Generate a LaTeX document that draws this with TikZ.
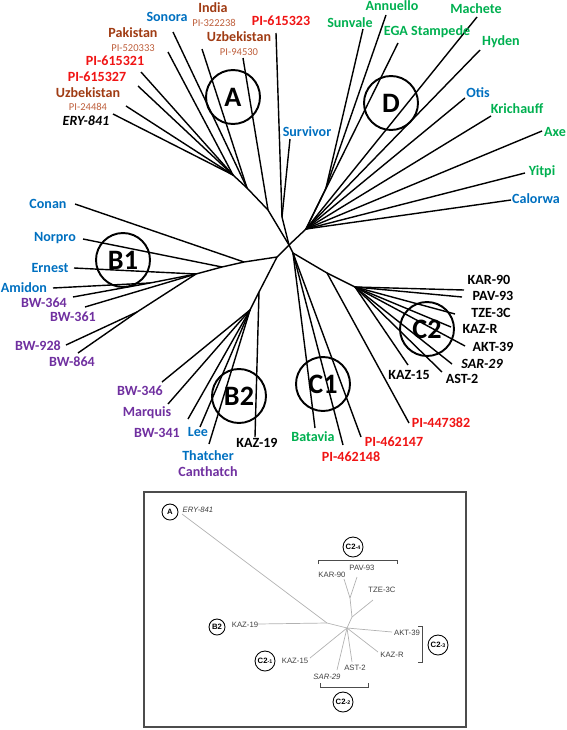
\documentclass[tikz,border=0pt]{standalone}
\usepackage{fontspec}
\setmainfont{Carlito}
\newfontfamily\insetfont{Liberation Sans}
\usepackage{tikz}
\usetikzlibrary{positioning}

\definecolor{cvblue}{RGB}{0,112,192}
\definecolor{cvgreen}{RGB}{0,176,80}
\definecolor{cvred}{RGB}{240,20,20}
\definecolor{cvbrown}{RGB}{160,60,20}
\definecolor{cvtan}{RGB}{190,95,60}
\definecolor{cvpurple}{RGB}{112,48,160}

\tikzset{
  lbl/.style={font=\bfseries\fontsize{8}{9}\selectfont, inner sep=0pt},
  acc/.style={font=\fontsize{6}{7}\selectfont, inner sep=0pt, text=cvtan},
  grp/.style={circle, draw, line width=1.1pt, minimum size=1.08cm, inner sep=0pt,
    font=\bfseries\fontsize{16}{16}\selectfont},
  br/.style={line width=0.8pt},
  ilbl/.style={font=\insetfont\fontsize{4.4}{5}\selectfont, inner sep=0pt, text=black!75},
  igrp/.style={circle, draw, line width=0.5pt, inner sep=0pt,
    font=\insetfont\bfseries\fontsize{4.4}{5}\selectfont},
  ibr/.style={line width=0.4pt, black!30}
}

\begin{document}
\begin{tikzpicture}[x=0.02cm,y=-0.02cm]
\useasboundingbox (0,0) rectangle (567,730);

% hubs of the big tree
\coordinate (c0) at (289,245);
\coordinate (p1) at (282,217);
\coordinate (a2) at (268,210);
\coordinate (a3) at (247,188);
\coordinate (a4) at (233,175);
\coordinate (d0) at (306,229);
\coordinate (d1) at (326,188);
\coordinate (b0) at (277,257);
\coordinate (b1) at (244,262);
\coordinate (b2) at (222,267);
\coordinate (b3) at (196,274);
\coordinate (b4) at (150,283);
\coordinate (b5) at (137,312);
\coordinate (h2a) at (259,292);
\coordinate (h2b) at (250,310);
\coordinate (cc) at (293,253);
\coordinate (c2a) at (327,273);
\coordinate (c2b) at (355,287);

% cluster A
\coordinate (tPIa) at (276,33);
\coordinate (tSurvivor) at (290,139);
\coordinate (tUzbB) at (243,58);
\coordinate (tIndia) at (202,49);
\coordinate (tSonora) at (173,32);
\coordinate (tPakistan) at (168,52);
\coordinate (tPIb) at (141,72);
\coordinate (tPIc) at (138,86);
\coordinate (tUzbA) at (126,106);
\coordinate (tERY) at (113,114);

\draw[br] (c0) -- (a2) -- (a3) -- (a4);
\draw[br] (c0) -- (p1) -- (tPIa);
\draw[br] (p1) -- (tSurvivor);
\draw[br] (a2) -- (tUzbB);
\draw[br] (a3) -- (tIndia);
\draw[br] (a3) -- (tSonora);
\foreach \t in {tPakistan,tPIb,tPIc,tUzbA,tERY}
  \draw[br] (a4) -- (\t);

\node[lbl, text=cvblue] (lSonora) at (167,17) {Sonora};
\node[lbl, text=cvbrown] (lIndia) at (213,8) {India};
\node[acc] (lIndiaPI) at (214,23) {PI-322238};
\node[lbl, text=cvred] (lPIa) at (281,21) {PI-615323};
\node[lbl, text=cvbrown] (lUzbB) at (239,37) {Uzbekistan};
\node[acc] (lUzbBPI) at (239,52) {PI-94530};
\node[lbl, text=cvbrown] (lPakistan) at (133,33) {Pakistan};
\node[acc] (lPakistanPI) at (133,48) {PI-520333};
\node[lbl, text=cvred] (lPIb) at (115,61) {PI-615321};
\node[lbl, text=cvred] (lPIc) at (97,77) {PI-615327};
\node[lbl, text=cvbrown] (lUzbA) at (88,93) {Uzbekistan};
\node[acc] (lUzbAPI) at (88,107) {PI-24484};
\node[lbl, font=\bfseries\itshape\fontsize{8}{9}\selectfont] (lERY) at (86,121) {ERY-841};
\node[lbl, text=cvblue] (lSurvivor) at (307,132) {Survivor};

% cluster D
\coordinate (tSunvale) at (363,29);
\coordinate (tAnnuello) at (386,15);
\coordinate (tEGA) at (398,43);
\coordinate (tMachete) at (477,17);
\coordinate (tHyden) at (480,50);
\coordinate (tOtis) at (465,98);
\coordinate (tKrichauff) at (491,116);
\coordinate (tAxe) at (542,131);
\coordinate (tYitpi) at (525,173);
\coordinate (tCalorwa) at (511,200);

\draw[br] (c0) -- (d0) -- (d1) -- (tSunvale);
\draw[br] (d1) -- (tAnnuello);
\foreach \t in {tEGA,tMachete,tHyden,tOtis,tKrichauff,tAxe,tYitpi,tCalorwa}
  \draw[br] (d0) -- (\t);

\node[lbl, text=cvgreen] (lSunvale) at (350,23) {Sunvale};
\node[lbl, text=cvgreen] (lAnnuello) at (392,6) {Annuello};
\node[lbl, text=cvgreen] (lEGA) at (427,32) {EGA Stampede};
\node[lbl, text=cvgreen] (lMachete) at (476,9) {Machete};
\node[lbl, text=cvgreen] (lHyden) at (501,42) {Hyden};
\node[lbl, text=cvblue] (lOtis) at (478,93) {Otis};
\node[lbl, text=cvgreen] (lKrichauff) at (517,109) {Krichauff};
\node[lbl, text=cvgreen] (lAxe) at (555,132) {Axe};
\node[lbl, text=cvgreen] (lYitpi) at (542,172) {Yitpi};
\node[lbl, text=cvblue] (lCalorwa) at (536,199) {Calorwa};

% cluster B1
\coordinate (tConan) at (75,204);
\coordinate (tNorpro) at (83,239);
\coordinate (tErnest) at (74,268);
\coordinate (tAmidon) at (53,288);
\coordinate (tBWa) at (73,297);
\coordinate (tBWb) at (85,307);
\coordinate (tBWc) at (66,345);
\coordinate (tBWd) at (78,353);

\draw[br] (c0) -- (b0) -- (b1) -- (b2) -- (b3) -- (b4) -- (tAmidon);
\draw[br] (b1) -- (tConan);
\draw[br] (b2) -- (tNorpro);
\draw[br] (b3) -- (tErnest);
\draw[br] (b4) -- (tBWa);
\draw[br] (b3) -- (tBWb);
\draw[br] (b3) -- (b5) -- (tBWc);
\draw[br] (b5) -- (tBWd);

\node[lbl, text=cvblue] (lConan) at (48,204) {Conan};
\node[lbl, text=cvblue] (lNorpro) at (55,238) {Norpro};
\node[lbl, text=cvblue] (lErnest) at (50,268) {Ernest};
\node[lbl, text=cvblue] (lAmidon) at (24,288) {Amidon};
\node[lbl, text=cvpurple] (lBWa) at (44,303) {BW-364};
\node[lbl, text=cvpurple] (lBWb) at (73,317) {BW-361};
\node[lbl, text=cvpurple] (lBWc) at (38,346) {BW-928};
\node[lbl, text=cvpurple] (lBWd) at (72,362) {BW-864};

% cluster B2
\coordinate (tKAZnt) at (255,437);
\coordinate (tBWe) at (162,382);
\coordinate (tMarquis) at (168,404);
\coordinate (tBWf) at (188,419);
\coordinate (tLee) at (200,427);
\coordinate (tThatcher) at (209,444);

\draw[br] (b0) -- (h2a) -- (tKAZnt);
\draw[br] (h2a) -- (h2b);
\foreach \t in {tBWe,tMarquis,tBWf,tLee,tThatcher}
  \draw[br] (h2b) -- (\t);

\node[lbl, text=cvpurple] (lBWe) at (140,391) {BW-346};
\node[lbl, text=cvpurple] (lMarquis) at (147,413) {Marquis};
\node[lbl, text=cvpurple] (lBWf) at (157,433) {BW-341};
\node[lbl, text=cvblue] (lLee) at (198,432) {Lee};
\node[lbl, text=cvblue] (lThatcher) at (208,456) {Thatcher};
\node[lbl, text=cvpurple] (lCanthatch) at (208,472) {Canthatch};
\node[lbl] (lKAZnt) at (257,443) {KAZ-19};

% clusters C1 and C2
\coordinate (tBatavia) at (315,428);
\coordinate (tPId) at (343,445);
\coordinate (tPIe) at (361,437);
\coordinate (tPIf) at (409,423);
\coordinate (tKAZft) at (408,365);
\coordinate (tAST) at (442,372);
\coordinate (tSAR) at (452,364);
\coordinate (tAKT) at (465,346);
\coordinate (tKAZR) at (451,327);
\coordinate (tTZE) at (455,314);
\coordinate (tPAV) at (462,297);
\coordinate (tKAR) at (464,290);

\draw[br] (c0) -- (cc) -- (tBatavia);
\draw[br] (cc) -- (tPId);
\draw[br] (cc) -- (tPIe);
\draw[br] (cc) -- (c2a) -- (tPIf);
\draw[br] (c2a) -- (c2b);
\foreach \t in {tKAZft,tAST,tSAR,tAKT,tKAZR,tTZE,tPAV,tKAR}
  \draw[br] (c2b) -- (\t);

\node[lbl, text=cvgreen] (lBatavia) at (313,437) {Batavia};
\node[lbl, text=cvred] (lPId) at (351,457) {PI-462148};
\node[lbl, text=cvred] (lPIe) at (394,442) {PI-462147};
\node[lbl, text=cvred] (lPIf) at (441,423) {PI-447382};
\node[lbl] (lKAZft) at (409,375) {KAZ-15};
\node[lbl] (lAST) at (462,379) {AST-2};
\node[lbl, font=\bfseries\itshape\fontsize{8}{9}\selectfont] (lSAR) at (482,364) {SAR-29};
\node[lbl] (lAKT) at (493,347) {AKT-39};
\node[lbl] (lKAZR) at (480,329) {KAZ-R};
\node[lbl] (lTZE) at (491,313) {TZE-3C};
\node[lbl] (lPAV) at (493,296) {PAV-93};
\node[lbl] (lKAR) at (489,280) {KAR-90};

% group circles
\node[grp] (gA) at (233,97) {A};
\node[grp] (gD) at (391,103) {D};
\node[grp] (gBa) at (123,260) {B1};
\node[grp] (gBb) at (239,396) {B2};
\node[grp] (gCa) at (323,384) {C1};
\node[grp] (gCb) at (427,329) {C2};

% inset
\draw[line width=0.8pt, black!70] (144,492) rectangle (466,727); % frame

\coordinate (ic0) at (347,628);
\coordinate (ic1) at (327,623);
\coordinate (ic2) at (352,617);
\coordinate (ic3) at (350,598);
\coordinate (iERY) at (182,514);
\coordinate (iKAZnt) at (258,624);
\coordinate (iKAZft) at (310,658);
\coordinate (iSAR) at (337,670);
\coordinate (iAST) at (352,662);
\coordinate (iAKT) at (392,632);
\coordinate (iKAZR) at (378,652);
\coordinate (iTZE) at (373,600);
\coordinate (iKAR) at (344,579);
\coordinate (iPAV) at (357,577);

\draw[ibr] (ic0) -- (ic1) -- (iERY);
\draw[ibr] (ic1) -- (iKAZnt);
\foreach \t in {iKAZft,iSAR,iAST,iAKT,iKAZR}
  \draw[ibr] (ic0) -- (\t);
\draw[ibr] (ic0) -- (ic2) -- (iTZE);
\draw[ibr] (ic2) -- (ic3) -- (iKAR);
\draw[ibr] (ic3) -- (iPAV);

\node[ilbl, font=\insetfont\itshape\fontsize{4.4}{5}\selectfont] (jERY) at (198,510) {ERY-841};
\node[ilbl] (jKAZnt) at (245,625) {KAZ-19};
\node[ilbl] (jKAZft) at (295,661) {KAZ-15};
\node[ilbl, font=\insetfont\itshape\fontsize{4.4}{5}\selectfont] (jSAR) at (327,677) {SAR-29};
\node[ilbl] (jAST) at (355,668) {AST-2};
\node[ilbl] (jAKT) at (407,633) {AKT-39};
\node[ilbl] (jKAZR) at (392,655) {KAZ-R};
\node[ilbl] (jTZE) at (382,590) {TZE-3C};
\node[ilbl] (jKAR) at (332,575) {KAR-90};
\node[ilbl] (jPAV) at (362,568) {PAV-93};

\node[igrp, minimum size=0.32cm] (hA) at (170,512) {A};
\node[igrp, minimum size=0.32cm] (hBb) at (217,627) {B2};
\node[igrp, minimum size=0.40cm] (hCa) at (265,661) {C2\fontsize{3}{3}\selectfont-1};
\node[igrp, minimum size=0.40cm] (hCb) at (343,702) {C2\fontsize{3}{3}\selectfont-2};
\node[igrp, minimum size=0.40cm] (hCc) at (438,645) {C2\fontsize{3}{3}\selectfont-3};
\node[igrp, minimum size=0.40cm] (hCd) at (353,547) {C2\fontsize{3}{3}\selectfont-4};

\draw[line width=0.5pt, black!70] (320,683) -- (320,687) -- (368,687) -- (368,683); % bracket C2-2
\draw[line width=0.5pt, black!70] (418,626) -- (422,626) -- (422,662) -- (418,662); % bracket C2-3
\draw[line width=0.5pt, black!70] (318,564) -- (318,560) -- (397,560) -- (397,564); % bracket C2-4

\end{tikzpicture}
\end{document}
